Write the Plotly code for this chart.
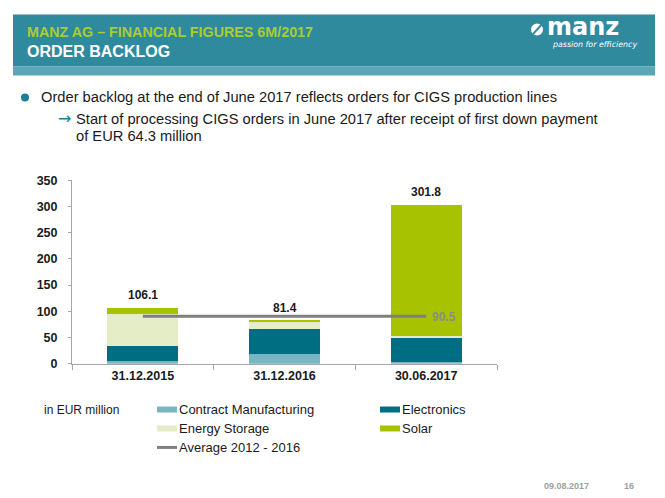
import plotly.graph_objects as go

W, H = 665, 498

categories = ["31.12.2015", "31.12.2016", "30.06.2017"]
contract_manufacturing = [5.0, 19.0, 3.5]
electronics = [29.0, 48.0, 44.5]
energy_storage = [61.0, 13.0, 4.0]
solar = [11.1, 1.4, 249.8]
average_2012_2016 = 90.5

series_names = ["Contract Manufacturing", "Electronics", "Energy Storage", "Solar"]
series_values = [contract_manufacturing, electronics, energy_storage, solar]
colors = ["#79b6c1", "#006e82", "#e4edc5", "#a6c200"]

FONT = "Arial, Liberation Sans, sans-serif"

# vertical calibration of the photographed page
VOFF, VSCALE = 6.36, 0.9746


def px(x):
    return x / W


def py(y):
    return 1 - ((y - VOFF) / VSCALE) / H


fig = go.Figure()
for name, vals, col in zip(series_names, series_values, colors):
    fig.add_trace(go.Bar(x=categories, y=vals, name=name, marker=dict(color=col, line=dict(width=0)),
                         width=0.5, showlegend=False, hoverinfo="y+name"))

fig.add_trace(go.Scatter(x=[categories[0], categories[-1]], y=[average_2012_2016] * 2, mode="lines",
                         line=dict(color="#7f7f7f", width=3), showlegend=False, name="Average 2012 - 2016"))

totals = [round(sum(v), 1) for v in zip(*series_values)]

annotations = []
for c, t in zip(categories, totals):
    annotations.append(dict(x=c, y=t, xref="x", yref="y", text=f"<b>{t:.1f}</b>", showarrow=False,
                            yshift=13, font=dict(family=FONT, size=12, color="#1a1a1a")))
annotations.append(dict(x=categories[-1], y=average_2012_2016, xref="x", yref="y", text=f"<b>{average_2012_2016}</b>",
                        showarrow=False, xanchor="left", xshift=4, yshift=-1,
                        font=dict(family=FONT, size=12, color="#8c8c8c")))

shapes = []
# header band
shapes.append(dict(type="rect", xref="paper", yref="paper", x0=px(13), x1=px(655), y0=py(66), y1=py(14),
                   fillcolor="#2f8a9d", line=dict(width=0), layer="below"))
shapes.append(dict(type="rect", xref="paper", yref="paper", x0=px(13), x1=px(655), y0=py(75), y1=py(66),
                   fillcolor="#5ba6b5", line=dict(width=0), layer="below"))
annotations.append(dict(x=px(25), y=py(31), xref="paper", yref="paper", xanchor="left", yanchor="middle",
                        text="<b>MANZ AG – FINANCIAL FIGURES 6M/2017</b>", showarrow=False,
                        font=dict(family=FONT, size=14.3, color="#a9cc2f")))
annotations.append(dict(x=px(25), y=py(51), xref="paper", yref="paper", xanchor="left", yanchor="middle",
                        text="<b>ORDER BACKLOG</b>", showarrow=False,
                        font=dict(family=FONT, size=16, color="#ffffff")))
# logo
shapes.append(dict(type="circle", xref="paper", yref="paper", x0=px(531), x1=px(543), y0=py(35), y1=py(23),
                   fillcolor="#ffffff", line=dict(width=0)))
shapes.append(dict(type="line", xref="paper", yref="paper", x0=px(532.5), x1=px(541.5), y0=py(34), y1=py(24),
                   line=dict(color="#2f8a9d", width=2)))
annotations.append(dict(x=px(545), y=py(26), xref="paper", yref="paper", xanchor="left", yanchor="middle",
                        text="<b>manz</b>", showarrow=False,
                        font=dict(family="DejaVu Sans, sans-serif", size=24, color="#ffffff")))
annotations.append(dict(x=px(639), y=py(44), xref="paper", yref="paper", xanchor="right", yanchor="middle",
                        text="<i>passion for efficiency</i>", showarrow=False,
                        font=dict(family="DejaVu Sans, sans-serif", size=7.9, color="#ffffff")))

# bullets
shapes.append(dict(type="circle", xref="paper", yref="paper", x0=px(21), x1=px(29), y0=py(101), y1=py(93),
                   fillcolor="#1b7f93", line=dict(width=0)))
annotations.append(dict(x=px(39), y=py(97), xref="paper", yref="paper", xanchor="left", yanchor="middle",
                        text="Order backlog at the end of June 2017 reflects orders for CIGS production lines",
                        showarrow=False, font=dict(family=FONT, size=14.7, color="#1a1a1a")))
annotations.append(dict(x=px(56), y=py(118), xref="paper", yref="paper", xanchor="left", yanchor="middle",
                        text="→", showarrow=False, font=dict(family="DejaVu Sans, sans-serif", size=16, color="#1b7f93")))
annotations.append(dict(x=px(74), y=py(119), xref="paper", yref="paper", xanchor="left", yanchor="middle",
                        text="Start of processing CIGS orders in June 2017 after receipt of first down payment",
                        showarrow=False, font=dict(family=FONT, size=14.7, color="#1a1a1a")))
annotations.append(dict(x=px(74), y=py(136), xref="paper", yref="paper", xanchor="left", yanchor="middle",
                        text="of EUR 64.3 million",
                        showarrow=False, font=dict(family=FONT, size=14.7, color="#1a1a1a")))

# legend
annotations.append(dict(x=px(42), y=py(410), xref="paper", yref="paper", xanchor="left", yanchor="middle",
                        text="in EUR million", showarrow=False, font=dict(family=FONT, size=12, color="#1a1a1a")))
legend_items = [
    ("Contract Manufacturing", colors[0], 157, 410, "rect"),
    ("Electronics", colors[1], 380, 410, "rect"),
    ("Energy Storage", colors[2], 157, 429, "rect"),
    ("Solar", colors[3], 380, 429, "rect"),
    ("Average 2012 - 2016", "#7f7f7f", 157, 448, "line"),
]
for text, col, lx, ly, kind in legend_items:
    if kind == "rect":
        shapes.append(dict(type="rect", xref="paper", yref="paper", x0=px(lx), x1=px(lx + 20),
                           y0=py(ly + 3), y1=py(ly - 3), fillcolor=col, line=dict(width=0)))
    else:
        shapes.append(dict(type="line", xref="paper", yref="paper", x0=px(lx), x1=px(lx + 20),
                           y0=py(ly), y1=py(ly), line=dict(color=col, width=3)))
    annotations.append(dict(x=px(lx + 20), y=py(ly), xref="paper", yref="paper", xanchor="left", yanchor="middle",
                            text=text, showarrow=False, font=dict(family=FONT, size=13, color="#1a1a1a")))

# footer
annotations.append(dict(x=px(566), y=py(487), xref="paper", yref="paper", xanchor="center", yanchor="middle",
                        text="<b>09.08.2017</b>", showarrow=False, font=dict(family=FONT, size=9, color="#a0a0a0")))
annotations.append(dict(x=px(629), y=py(487), xref="paper", yref="paper", xanchor="center", yanchor="middle",
                        text="<b>16</b>", showarrow=False, font=dict(family=FONT, size=9, color="#a0a0a0")))

fig.update_layout(
    width=W, height=H, margin=dict(l=0, r=0, t=0, b=0), barmode="stack", bargap=0.5,
    paper_bgcolor="#ffffff", plot_bgcolor="#ffffff", font=dict(family=FONT),
    xaxis=dict(domain=[px(72), px(497)], showline=True, linecolor="#a6a6a6", linewidth=1,
               ticks="outside", tickson="boundaries", ticklen=5, tickcolor="#a6a6a6",
               tickfont=dict(family=FONT, size=12.5, color="#1a1a1a"), showgrid=False,
               tickprefix="<b>", ticksuffix="</b>", fixedrange=True),
    yaxis=dict(domain=[py(364), py(180)], range=[0, 350], dtick=50, showline=True, linecolor="#a6a6a6",
               linewidth=1, ticks="outside", ticklen=3, tickcolor="#a6a6a6", showgrid=False, zeroline=False,
               tickfont=dict(family=FONT, size=12.5, color="#1a1a1a"), tickprefix="<b>", ticksuffix="</b>",
               ticklabelstandoff=8, fixedrange=True),
    shapes=shapes, annotations=annotations,
)

fig.write_html("out.html", config={"displayModeBar": False},
               post_script="document.body.style.margin='0';document.body.style.overflow='hidden';")
